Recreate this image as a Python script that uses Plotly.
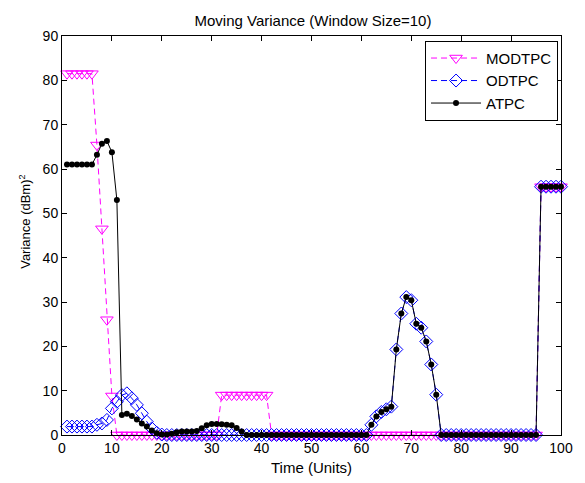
import plotly.graph_objects as go

# Time axis (units)
time_units = list(range(1, 101))

# Moving variance, window size 10, for each power-control scheme
modtpc = ([81.5] * 6 + [65.4, 46.5, 26.0, 8.8] + [0.0] * 21 + [9.0] * 10
          + [0.0] * 54 + [56.0] * 5)

odtpc = ([1.9] * 6 + [2.3, 2.6, 3.4, 6.0, 7.5, 9.0, 9.4, 8.3, 6.8, 4.9, 3.0, 1.5, 0.5, 0.1]
         + [0.0] * 41
         + [2.3, 4.2, 5.2, 5.8, 6.4, 19.3, 27.4, 31.1, 30.4, 25.1, 24.2, 21.1, 15.9, 9.1]
         + [0.0] * 20 + [56.0] * 5)

atpc = ([61.0] * 6 + [63.2, 65.7, 66.3, 63.8, 53.0, 4.5, 4.8, 4.3, 3.5, 2.6, 1.9, 1.0, 0.4, 0.1,
                      0.1, 0.3, 0.6, 0.8, 0.8, 0.8, 0.9, 1.5, 2.2, 2.5, 2.5, 2.4, 2.3, 2.2, 1.6, 0.8]
        + [0.0] * 25
        + [2.3, 4.2, 5.2, 5.8, 6.4, 19.3, 27.4, 31.1, 30.4, 25.1, 24.2, 21.1, 15.9, 9.1]
        + [0.0] * 20 + [56.0] * 5)

x_ticks = list(range(0, 101, 10))
y_ticks = list(range(0, 91, 10))

FONT = "Liberation Sans, Arial, sans-serif"

fig = go.Figure()
fig.add_trace(go.Scatter(
    x=time_units, y=modtpc, name="MODTPC", mode="lines+markers",
    line=dict(color="#FF00FF", width=1, dash="6px,4px"),
    marker=dict(symbol="triangle-down-open", size=11, color="#FF00FF", line=dict(width=1)),
    cliponaxis=False,
))
fig.add_trace(go.Scatter(
    x=time_units, y=odtpc, name="ODTPC", mode="lines+markers",
    line=dict(color="#0000FF", width=1, dash="6px,4px"),
    marker=dict(symbol="diamond-open", size=10, color="#0000FF", line=dict(width=1)),
    cliponaxis=False,
))
fig.add_trace(go.Scatter(
    x=time_units, y=atpc, name="ATPC", mode="lines+markers",
    line=dict(color="#000000", width=1),
    marker=dict(symbol="circle", size=6, color="#000000"),
    cliponaxis=False,
))

axis_common = dict(
    showgrid=False, zeroline=False, showline=True, linecolor="black", linewidth=1,
    mirror="ticks", ticks="inside", ticklen=5, tickcolor="black",
    tickfont=dict(family=FONT, size=14, color="black"),
)

fig.update_layout(
    width=585, height=483,
    margin=dict(l=62, r=13, t=36, b=48),
    paper_bgcolor="white", plot_bgcolor="white",
    font=dict(family=FONT, size=14, color="black"),
    title=dict(text="Moving Variance (Window Size=10)", x=0.535, xanchor="center",
               y=1 - 20.5 / 483, yanchor="middle", font=dict(family=FONT, size=15, color="black")),
    xaxis=dict(range=[0, 100], tickvals=x_ticks, **axis_common),
    yaxis=dict(range=[0, 90], tickvals=y_ticks, **axis_common),
    legend=dict(x=0.7275, y=0.988, xanchor="left", yanchor="top",
                bgcolor="white", bordercolor="black", borderwidth=1,
                font=dict(family=FONT, size=15, color="black"),
                itemwidth=50, tracegroupgap=0),
    showlegend=True,
    annotations=[
        dict(text="Time (Units)", xref="paper", yref="paper", x=0.5, y=-32 / 399,
             xanchor="center", yanchor="middle", showarrow=False,
             font=dict(family=FONT, size=15, color="black")),
        dict(text="Variance (dBm)<sup>2</sup>", xref="paper", yref="paper",
             x=-38 / 510, y=(435 - 222) / 399, textangle=-90,
             xanchor="center", yanchor="middle", showarrow=False,
             font=dict(family=FONT, size=13, color="black")),
    ],
)

fig.write_html("out.html")
